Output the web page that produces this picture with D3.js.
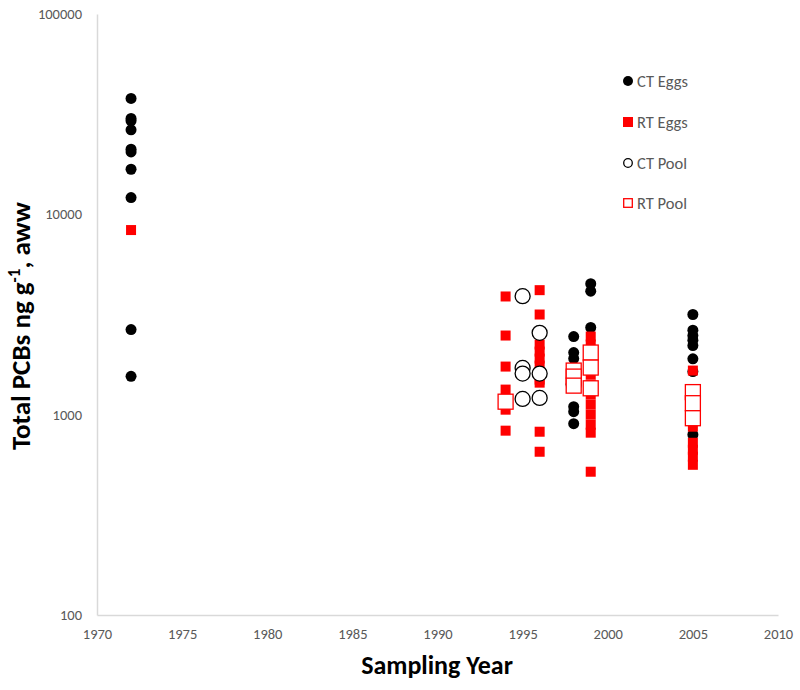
<!DOCTYPE html>
<html>
<head>
<meta charset="utf-8">
<script src="https://cdn.jsdelivr.net/npm/d3@7"></script>
<style>
  body { margin: 0; background: #fff; }
  svg { display: block; font-family: Carlito, Lato, "Open Sans", sans-serif; }
</style>
</head>
<body>
<svg id="chart" width="800" height="690"></svg>
<script>
// ---- data (year, total PCBs ng/g aww) ----
const ctEggs = [
  [1972, 37890], [1972, 30100], [1972, 29280], [1972, 26400], [1972, 21130],
  [1972, 20490], [1972, 16790], [1972, 12120], [1972, 2661], [1972, 1554],
  [1998, 2455], [1998, 2042], [1998, 1905], [1998, 1096], [1998, 1035], [1998, 902],
  [1999, 4503], [1999, 4135], [1999, 2723], [1999, 1641],
  [2005, 3162], [2005, 2640], [2005, 2483], [2005, 2352], [2005, 2213],
  [2005, 1899], [2005, 1641], [2005, 794]
];
const rtEggs = [
  [1972, 8347],
  [1994, 3890], [1994, 2483], [1994, 1738], [1994, 1334], [1994, 1059], [1994, 832],
  [1996, 4183], [1996, 3162], [1996, 2239], [1996, 2065], [1996, 1905], [1996, 1758],
  [1996, 1622], [1996, 1496], [1996, 1445], [1996, 822], [1996, 653],
  [1999, 2455], [1999, 2239], [1999, 1995], [1999, 1778], [1999, 1585], [1999, 1413],
  [1999, 1259], [1999, 1122], [1999, 1000], [1999, 891], [1999, 813], [1999, 519],
  [2005, 1660], [2005, 1334], [2005, 1122], [2005, 871], [2005, 724], [2005, 668],
  [2005, 617], [2005, 562]
];
const ctPool = [
  [1995, 3905], [1995, 1712], [1995, 1603], [1995, 1198],
  [1996, 2562], [1996, 1603], [1996, 1212],
  [1998, 1413]
];
const rtPool = [
  [1994, 1161],
  [1998, 1660], [1998, 1549], [1998, 1396],
  [1999, 2042], [1999, 1718], [1999, 1354],
  [2005, 1296], [2005, 1141], [2005, 960]
];
const xTicks = [1970, 1975, 1980, 1985, 1990, 1995, 2000, 2005, 2010];
const yTicks = [100, 1000, 10000, 100000];
const legendLabels = ["CT Eggs", "RT Eggs", "CT Pool", "RT Pool"];

// ---- layout ----
const svg = d3.select("#chart");
const x = d3.scaleLinear().domain([1970, 2010]).range([97, 778]);
const y = d3.scaleLog().domain([100, 100000]).range([615, 14]);
const axisColor = "#d9d9d9";
const textColor = "#595959";

// axes
const gx = svg.append("g").attr("transform", "translate(0,615)")
  .call(d3.axisBottom(x).tickValues(xTicks).tickFormat(d3.format("d")).tickSize(0).tickPadding(14));
const gy = svg.append("g").attr("transform", "translate(97,0)")
  .call(d3.axisLeft(y).tickValues(yTicks).tickFormat(d3.format("d")).tickSize(0).tickPadding(15));
[gx, gy].forEach(g => {
  g.select(".domain").attr("stroke", axisColor).attr("stroke-width", 1.5);
  g.selectAll("text").attr("fill", textColor).style("font-size", "14.5px")
    .style("font-family", "Carlito, Lato, 'Open Sans', sans-serif");
});

// axis titles
svg.append("text").attr("x", 437).attr("y", 674).attr("text-anchor", "middle")
  .style("font-size", "26px").style("font-weight", "bold").attr("fill", "#000")
  .text("Sampling Year");
const yt = svg.append("text").attr("transform", "translate(30,326) rotate(-90)")
  .attr("text-anchor", "middle").style("font-size", "27px").style("font-weight", "bold").attr("fill", "#000");
yt.append("tspan").text("Total PCBs ng g");
yt.append("tspan").attr("baseline-shift", "super").style("font-size", "17px").text("-1");
yt.append("tspan").text(", aww");

// marks
const plot = svg.append("g");
plot.selectAll("circle.cte").data(ctEggs).join("circle").attr("class", "cte")
  .attr("cx", d => x(d[0])).attr("cy", d => y(d[1])).attr("r", 5.5).attr("fill", "#000");
const sq = 10;
plot.selectAll("rect.rte").data(rtEggs).join("rect").attr("class", "rte")
  .attr("x", d => x(d[0]) - sq / 2).attr("y", d => y(d[1]) - sq / 2)
  .attr("width", sq).attr("height", sq).attr("fill", "#ff0000");
plot.selectAll("circle.ctp").data(ctPool).join("circle").attr("class", "ctp")
  .attr("cx", d => x(d[0])).attr("cy", d => y(d[1])).attr("r", 7.5)
  .attr("fill", "#fff").attr("stroke", "#000").attr("stroke-width", 1.3);
const ps = 15;
plot.selectAll("rect.rtp").data(rtPool).join("rect").attr("class", "rtp")
  .attr("x", d => x(d[0]) - ps / 2).attr("y", d => y(d[1]) - ps / 2)
  .attr("width", ps).attr("height", ps)
  .attr("fill", "#fff").attr("stroke", "#ff0000").attr("stroke-width", 1.3);

// legend
const legY = [81, 122, 163, 203];
const leg = svg.append("g");
legendLabels.forEach((lab, i) => {
  const g = leg.append("g").attr("transform", `translate(628,${legY[i]})`);
  if (i === 0) g.append("circle").attr("r", 5).attr("fill", "#000");
  if (i === 1) g.append("rect").attr("x", -5).attr("y", -5).attr("width", 10).attr("height", 10).attr("fill", "#ff0000");
  if (i === 2) g.append("circle").attr("r", 4.3).attr("fill", "#fff").attr("stroke", "#000").attr("stroke-width", 1.3);
  if (i === 3) g.append("rect").attr("x", -4.3).attr("y", -4.3).attr("width", 8.6).attr("height", 8.6)
    .attr("fill", "#fff").attr("stroke", "#ff0000").attr("stroke-width", 1.3);
  g.append("text").attr("x", 9).attr("dy", "0.35em").attr("fill", textColor)
    .style("font-size", "16.5px").text(lab);
});
</script>
</body>
</html>
